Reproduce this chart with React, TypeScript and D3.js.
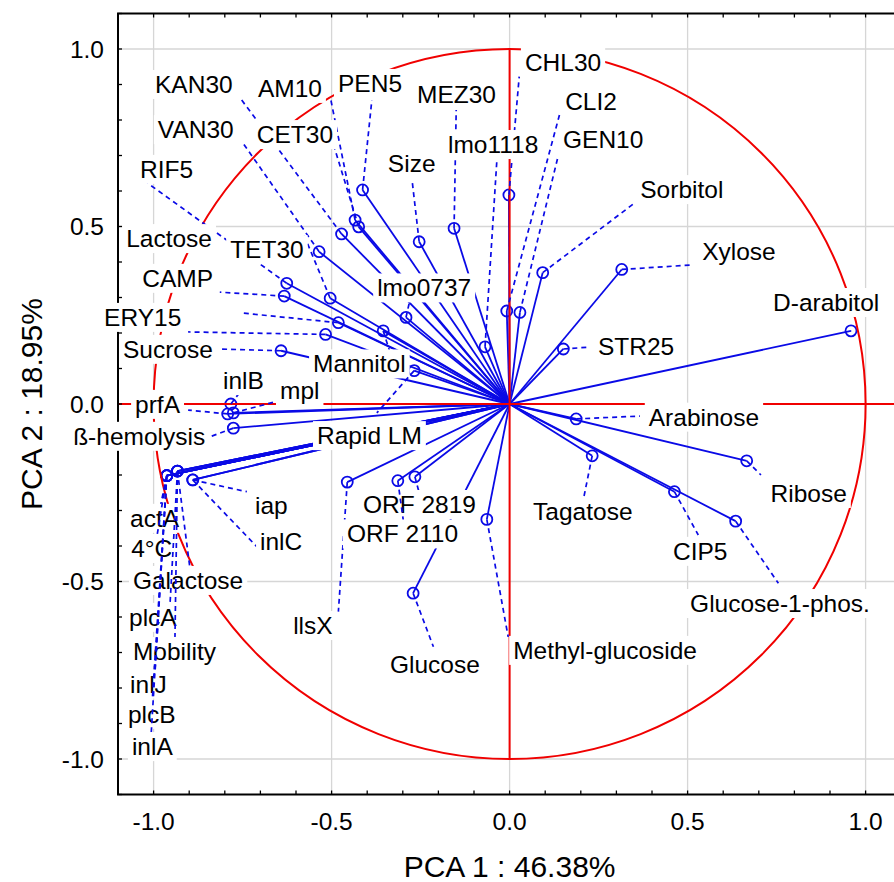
import React from "react";
import * as d3 from "d3";

const W = 894;
const H = 882;
const FONT = '"Liberation Sans", Arial, Helvetica, sans-serif';

// variable names, in drawing order (later labels sit on top of earlier ones)
const names = [
  "KAN30", "AM10", "PEN5", "MEZ30", "VAN30", "CET30", "RIF5", "Size",
  "CHL30", "lmo1118", "Lactose", "TET30", "CAMP", "ERY15", "Sucrose", "lmo0737",
  "Mannitol", "inlB", "mpl", "prfA", "ß-hemolysis", "Rapid LM", "iap", "inlC",
  "actA", "4°C", "Galactose", "plcA", "Mobility", "inlJ", "plcB", "inlA",
  "llsX", "ORF 2819", "ORF 2110", "Glucose", "Methyl-glucoside", "CLI2", "GEN10", "Sorbitol",
  "Xylose", "D-arabitol", "STR25", "Arabinose", "Ribose", "Tagatose", "CIP5", "Glucose-1-phos.",
];

// loadings on PCA 1
const pc1 = [
  -0.472, -0.434, -0.413, -0.156, -0.535, -0.424, -0.626, -0.254,
  -0.002, -0.069, -0.481, -0.504, -0.633, -0.517, -0.642, -0.291,
  -0.355, -0.783, -0.776, -0.792, -0.776, -0.268, -0.890, -0.890,
  -0.963, -0.963, -0.933, -0.933, -0.933, -0.963, -0.963, -0.963,
  -0.456, -0.266, -0.314, -0.271, -0.064, -0.008, 0.029, 0.093,
  0.315, 0.959, 0.151, 0.187, 0.666, 0.232, 0.463, 0.635,
];

// loadings on PCA 2
const pc2 = [
  0.479, 0.518, 0.603, 0.495, 0.429, 0.499, 0.340, 0.457,
  0.589, 0.161, 0.229, 0.298, 0.304, 0.196, 0.150, 0.244,
  0.206, 0.000, -0.025, -0.028, -0.068, 0.094, -0.214, -0.214,
  -0.202, -0.202, -0.189, -0.189, -0.189, -0.202, -0.202, -0.202,
  -0.220, -0.205, -0.216, -0.533, -0.325, 0.262, 0.258, 0.370,
  0.379, 0.206, 0.155, -0.042, -0.160, -0.146, -0.247, -0.330,
];

// label text start (left edge, baseline) in plot units
const labelX = [
  -0.996, -0.707, -0.482, -0.260, -0.988, -0.710, -1.038, -0.342,
  0.043, -0.173, -1.077, -0.785, -1.032, -1.139, -1.086, -0.372,
  -0.552, -0.805, -0.645, -1.052, -1.226, -0.541, -0.715, -0.701,
  -1.066, -1.063, -1.058, -1.069, -1.058, -1.066, -1.072, -1.061,
  -0.608, -0.412, -0.457, -0.336, 0.010, 0.156, 0.150, 0.367,
  0.541, 0.740, 0.248, 0.391, 0.733, 0.066, 0.459, 0.507,
];
const labelY = [
  0.876, 0.865, 0.879, 0.848, 0.749, 0.735, 0.637, 0.654,
  0.938, 0.707, 0.442, 0.411, 0.330, 0.220, 0.130, 0.303,
  0.089, 0.042, 0.014, -0.025, -0.115, -0.113, -0.310, -0.411,
  -0.346, -0.431, -0.521, -0.625, -0.721, -0.813, -0.898, -0.989,
  -0.648, -0.307, -0.390, -0.758, -0.718, 0.828, 0.721, 0.580,
  0.406, 0.262, 0.138, -0.061, -0.276, -0.327, -0.439, -0.586,
];

// where each dashed leader line ends, near its label
const leadX = [
  -0.757, -0.502, -0.387, -0.150, -0.749, -0.496, -1.018, -0.274,
  0.027, -0.036, -0.749, -0.580, -0.814, -0.903, -0.819, -0.280,
  -0.336, -0.757, -0.659, -0.903, -0.841, -0.373, -0.738, -0.710,
  -0.982, -0.990, -0.898, -0.954, -0.940, -0.996, -1.004, -1.007,
  -0.481, -0.253, -0.298, -0.214, -0.004, 0.140, 0.137, 0.347,
  0.516, 0.959, 0.221, 0.366, 0.706, 0.207, 0.530, 0.755,
];
const leadY = [
  0.862, 0.856, 0.856, 0.828, 0.735, 0.735, 0.623, 0.631,
  0.922, 0.683, 0.256, 0.482, 0.315, 0.203, 0.155, 0.293,
  0.146, 0.034, 0.006, -0.017, -0.092, -0.025, -0.247, -0.402,
  -0.293, -0.369, -0.462, -0.566, -0.659, -0.755, -0.839, -0.932,
  -0.585, -0.254, -0.332, -0.684, -0.656, 0.814, 0.701, 0.563,
  0.392, 0.206, 0.160, -0.034, -0.200, -0.270, -0.369, -0.505,
];

const majorTicks = [-1, -0.5, 0, 0.5, 1];
const tickLabels = ["-1.0", "-0.5", "0.0", "0.5", "1.0"];
const xTitle = "PCA 1 : 46.38%";
const yTitle = "PCA 2 : 18.95%";

const BLUE = "#0a0ae6";
const RED = "#f00000";
const LABEL_SIZE = 24.5;

let ctx: CanvasRenderingContext2D | null = null;
function textWidth(s: string, size: number) {
  if (!ctx) ctx = document.createElement("canvas").getContext("2d");
  if (!ctx) return s.length * size * 0.55;
  ctx.font = `${size}px ${FONT}`;
  return ctx.measureText(s).width;
}

export default function App() {
  const x = d3.scaleLinear().domain([-1.1, 1.1]).range([118, 901.2]);
  const y = d3.scaleLinear().domain([-1.1, 1.1]).range([794.5, 13.5]);
  const minor = d3.range(-11, 12).map((i) => i / 10);

  const x0 = x(0);
  const y0 = y(0);
  const top = y(1.1);
  const bottom = y(-1.1);
  const left = x(-1.1);
  const right = x(1.1);

  return (
    <svg
      width={W}
      height={H}
      style={{ position: "absolute", left: 0, top: 0, background: "#fff" }}
      fontFamily={FONT}
    >
      <rect width={W} height={H} fill="#fff" />

      {/* grid at the major ticks */}
      {majorTicks.map((t) => (
        <g key={"g" + t}>
          <line x1={x(t)} x2={x(t)} y1={top} y2={bottom} stroke="#d6d6d6" strokeWidth={1.3} />
          <line x1={left} x2={right} y1={y(t)} y2={y(t)} stroke="#d6d6d6" strokeWidth={1.3} />
        </g>
      ))}

      {/* loading vectors */}
      {names.map((n, i) => (
        <line
          key={"v" + i}
          x1={x0}
          y1={y0}
          x2={x(pc1[i])}
          y2={y(pc2[i])}
          stroke={BLUE}
          strokeWidth={1.8}
        />
      ))}
      {names.map((n, i) => (
        <circle
          key={"c" + i}
          cx={x(pc1[i])}
          cy={y(pc2[i])}
          r={5.5}
          fill="none"
          stroke={BLUE}
          strokeWidth={1.8}
        />
      ))}

      {/* unit circle and axes through the origin */}
      <ellipse
        cx={x0}
        cy={y0}
        rx={x(1) - x0}
        ry={y0 - y(1)}
        fill="none"
        stroke={RED}
        strokeWidth={2}
      />
      <line x1={left} x2={right} y1={y0} y2={y0} stroke={RED} strokeWidth={2} />
      <line x1={x0} x2={x0} y1={y(1)} y2={y(-1)} stroke={RED} strokeWidth={2} />

      {/* frame and inward ticks */}
      <path
        d={`M${right},${top}H${left}V${bottom}H${right}`}
        fill="none"
        stroke="#000"
        strokeWidth={2}
      />
      {minor.map((t) => (
        <g key={"t" + t} stroke="#000" strokeWidth={1.3}>
          <line x1={left} x2={left + 4} y1={y(t)} y2={y(t)} />
          <line x1={x(t)} x2={x(t)} y1={top} y2={top + 4} />
          <line x1={x(t)} x2={x(t)} y1={bottom} y2={bottom - 4} />
        </g>
      ))}

      {/* leaders and labels */}
      {names.map((n, i) => {
        const tx = x(labelX[i]);
        const ty = y(labelY[i]);
        const w = textWidth(n, LABEL_SIZE);
        return (
          <g key={"l" + i}>
            <line
              x1={x(pc1[i])}
              y1={y(pc2[i])}
              x2={x(leadX[i])}
              y2={y(leadY[i])}
              stroke={BLUE}
              strokeWidth={1.7}
              strokeDasharray="5,4"
            />
            <rect x={tx - 4} y={ty - 23} width={w + 8} height={29} fill="#fff" />
            <text x={tx} y={ty} fontSize={LABEL_SIZE} fill="#000">
              {n}
            </text>
          </g>
        );
      })}

      {/* tick labels */}
      {majorTicks.map((t, i) => (
        <g key={"tl" + t} fontSize={24.5} fill="#000">
          <text x={104} y={y(t) + 8.7} textAnchor="end">
            {tickLabels[i]}
          </text>
          <text x={x(t)} y={829.5} textAnchor="middle">
            {tickLabels[i]}
          </text>
        </g>
      ))}

      {/* axis titles */}
      <text x={x0} y={877} textAnchor="middle" fontSize={30} fill="#000">
        {xTitle}
      </text>
      <text
        transform={`translate(41.5,${y0}) rotate(-90)`}
        textAnchor="middle"
        fontSize={30}
        fill="#000"
      >
        {yTitle}
      </text>
    </svg>
  );
}
